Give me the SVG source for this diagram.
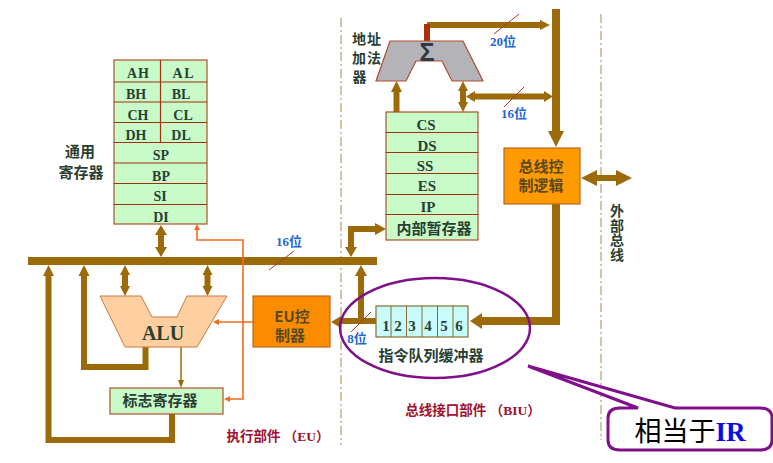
<svg xmlns="http://www.w3.org/2000/svg" width="773" height="463" viewBox="0 0 773 463">
<style>
text{font-family:"Liberation Serif","Noto Sans CJK SC",serif;font-weight:bold;text-anchor:middle;fill:#2a3f33}
.cjk{font-family:"Noto Sans CJK SC",sans-serif}
.reg{fill:#c8fbc8;stroke:#b0502a;stroke-width:1.2}
.sep{stroke:#a03010;stroke-width:1.2;fill:none}
.bus{fill:none;stroke:#9c6a08;stroke-width:8}
.bus6{fill:none;stroke:#9c6a08;stroke-width:6}
.head{fill:#9c6a08}
.or{fill:none;stroke:#f36a1e;stroke-width:1.6}
.slash{stroke:#a03a30;stroke-width:1;fill:none}
.dash{stroke:#a08a50;stroke-width:1;stroke-dasharray:9 3 2 3;fill:none}
.blue{fill:#1e66d8;font-size:13px}
.ctl{fill:#ff9a00;stroke:#b86a20;stroke-width:1.2}
.ctltxt{fill:#5a4a20;font-size:15px}
.red{fill:#a01030;font-size:13.500px}
.s14{font-size:14px}
.s15{font-size:15px}
.adr{font-size:14px;letter-spacing:1px}
</style>
<rect width="773" height="463" fill="#ffffff"/>
<path class="dash" d="M341 18V445M601 14V440"/>
<g id="connectors">
<path class="bus" d="M28 261H377"/>
<path class="bus" d="M556 9V132"/>
<path class="head" d="M548 131H564L556 147Z"/>
<path class="bus" d="M556 204V321H482"/>
<path class="head" d="M470 321L482 313V329Z"/>
<path class="bus6" d="M427 25H541"/>
<path d="M427 24V41" fill="none" stroke="#a83208" stroke-width="6"/>
<path class="head" d="M550 25L540 20V30Z"/>
<path class="bus6" d="M470 96.500H544"/>
<path class="head" d="M466 96.500L475 91V102ZM553 96.500L544 91V102Z"/>
<path class="bus6" d="M463 88V105"/>
<path class="head" d="M463 81L458 91H468ZM463 112L458 102H468Z"/>
<path class="bus6" d="M396.500 112V90"/>
<path class="head" d="M396.500 81L391 92H402Z"/>
<path class="bus6" d="M590 178H624"/>
<path class="head" d="M581 178L597 170V186ZM632 178L616 170V186Z"/>
<path class="bus6" d="M376 229H351V248"/>
<path class="head" d="M386 229L375 223V235ZM351 257L345 247H357Z"/>
<path class="bus6" d="M376 321H340"/>
<path class="head" d="M331 322L341 316V328Z"/>
<path class="bus6" d="M361 321V274"/>
<path class="head" d="M361 265L355 276H367Z"/>
<path class="bus6" d="M161 232V250"/>
<path class="head" d="M161 225L155 235H167ZM161 257L155 247H167Z"/>
<path class="bus6" d="M125 273V289"/>
<path class="head" d="M125 265L120 275H130ZM125 296L120 286H130Z"/>
<path class="bus6" d="M207.500 273V289"/>
<path class="head" d="M207.500 265L202.500 275H212.500ZM207.500 296L202.500 286H212.500Z"/>
<path class="bus6" d="M172 414V440H48.500V274"/>
<path class="head" d="M48.500 265L43 276H54Z"/>
<path class="bus6" d="M145.500 347V367H84V274"/>
<path class="head" d="M84 265L78.500 276H89.500Z"/>
<path d="M181 347V380" fill="none" stroke="#9c6a08" stroke-width="1.500"/>
<path class="head" d="M181 388L178 380H184Z"/>
<path class="or" d="M253 322H217"/>
<path d="M213 322L219 319V325Z" fill="#f36a1e"/>
<path class="or" d="M228 399H243V240H197V228"/>
<path d="M224 399L230 396V402ZM197 224L194 230H200Z" fill="#f36a1e"/>
<path class="slash" d="M494 34L519 14M504 107L524 87M269 270L294 251M351 332L371 312"/>
</g>
<g id="general-registers">
<rect class="reg" x="114" y="60" width="93" height="164"/>
<path class="sep" d="M114 82H207M114 102H207M114 122.500H207M114 142.500H207M114 163H207M114 183.500H207M114 204.500H207M160.500 60V142.500"/>
<g class="s14">
<text x="138" y="78" textLength="22">AH</text><text x="183" y="78" textLength="21">AL</text>
<text x="136" y="99">BH</text><text x="181" y="99">BL</text>
<text x="138" y="120">CH</text><text x="183" y="120">CL</text>
<text x="136" y="140">DH</text><text x="181" y="140">DL</text>
<text x="161" y="160">SP</text>
<text x="161" y="181">BP</text>
<text x="160" y="201">SI</text>
<text x="161" y="222">DI</text>
</g>
<text class="cjk s15" x="80" y="157">通用</text>
<text class="cjk s15" x="81" y="178">寄存器</text>
</g>
<g id="adder">
<path d="M390 41H463L483 81H452L442 61H416L406 81H376Z" fill="#b4b4b8" stroke="#b04a30" stroke-width="1.200"/>
<text x="427" y="61" style="font-size:25px;fill:#2f3a44;font-family:'Liberation Sans',sans-serif">Σ</text>
<text class="cjk adr" x="367" y="44">地址</text>
<text class="cjk adr" x="367" y="63">加法</text>
<text class="cjk adr" x="360" y="82">器</text>
</g>
<g id="segment-registers">
<rect class="reg" x="386" y="112" width="92" height="128"/>
<path class="sep" d="M386 132.500H478M386 152.500H478M386 173.500H478M386 194.500H478M386 214.500H478"/>
<g style="font-size:15px">
<text x="426" y="130">CS</text>
<text x="427" y="151">DS</text>
<text x="425" y="171">SS</text>
<text x="427" y="191">ES</text>
<text x="428" y="212">IP</text>
</g>
<text class="cjk s15" x="434" y="234">内部暂存器</text>
</g>
<g id="bus-control">
<rect class="ctl" x="504" y="148" width="76" height="56"/>
<text class="cjk ctltxt" x="541" y="172">总线控</text>
<text class="cjk ctltxt" x="541" y="191">制逻辑</text>
</g>
<g id="external-bus-label">
<text class="cjk s14" x="617" y="204" style="writing-mode:vertical-rl;text-anchor:start;letter-spacing:0.500px">外部总线</text>
</g>
<g id="alu">
<path d="M100 296H141L152 317H177L187 296H227L197 347H125Z" fill="#ffcfa0" stroke="#c87a40" stroke-width="1"/>
<text x="163" y="340" style="font-size:20px">ALU</text>
</g>
<g id="eu-control">
<rect class="ctl" x="253" y="296" width="77" height="51" style="fill:#fb8c00"/>
<text class="cjk ctltxt" x="292" y="322">EU控</text>
<text class="cjk ctltxt" x="290" y="341">制器</text>
</g>
<g id="flags">
<rect class="reg" x="110" y="388" width="113" height="26"/>
<text class="cjk s15" x="160" y="406">标志寄存器</text>
</g>
<g id="queue">
<rect x="376" y="306" width="92" height="31" fill="#c8fcfc" stroke="#8a6a30" stroke-width="1.200"/>
<path d="M391 306V337M406.500 306V337M422 306V337M437.500 306V337M453 306V337" fill="none" stroke="#8a6a30"/>
<g style="font-size:15px">
<text x="386" y="331">1</text><text x="398" y="331">2</text><text x="412" y="331">3</text><text x="428" y="331">4</text><text x="444" y="331">5</text><text x="459" y="331">6</text>
</g>
<text class="cjk s15" x="431" y="361">指令队列缓冲器</text>
</g>
<g id="width-labels">
<text class="blue" x="503" y="46">20位</text>
<text class="blue" x="514" y="118">16位</text>
<text class="blue" x="289" y="246">16位</text>
<text class="blue" x="357" y="343">8位</text>
</g>
<g id="section-labels">
<text class="red" x="278" y="441">执行部件 （EU）</text>
<text class="red" x="473" y="415">总线接口部件 （BIU）</text>
</g>
<g id="highlight">
<ellipse cx="435" cy="328" rx="95" ry="50" fill="none" stroke="#80108a" stroke-width="2.500"/>
<path d="M638 408L528 366L675 408H760Q772 408 772 418V440Q772 450 760 450H620Q608 450 608 440V418Q608 408 620 408Z" fill="#ffffff" stroke="#80108a" stroke-width="3"/>
<text x="690" y="441" style="font-size:27px;fill:#000;font-weight:normal">相当于<tspan style="fill:#0a0aee;font-weight:bold">IR</tspan></text>
</g>
</svg>
